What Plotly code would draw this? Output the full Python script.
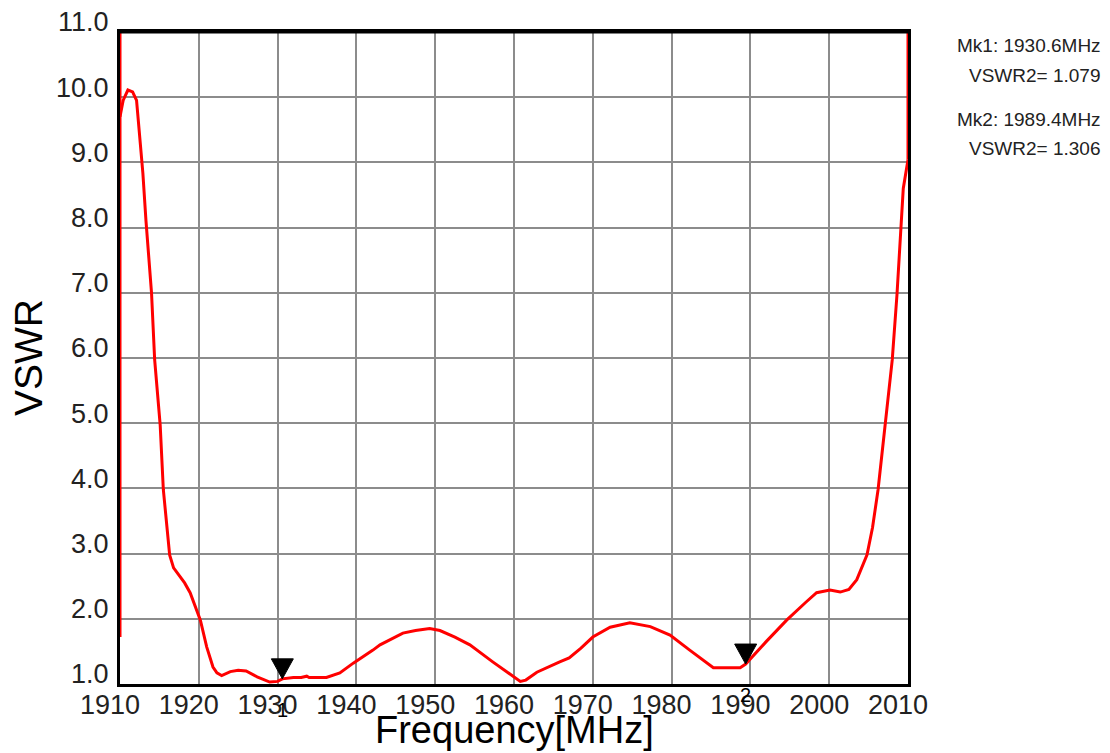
import plotly.graph_objects as go

# ---- data ----
freq = [1910.0, 1910.4, 1911.0, 1911.6, 1912.1, 1912.5, 1912.9, 1913.3, 1913.6, 1914.0,
        1914.4, 1915.1, 1915.5, 1916.0, 1916.3, 1916.8, 1917.4, 1918.2, 1918.9, 1919.4,
        1920.2, 1921.0, 1921.8, 1922.3, 1922.9, 1924.0, 1925.0, 1926.0, 1927.4, 1929.0,
        1930.0, 1930.6, 1932.0, 1933.0, 1933.7, 1934.0, 1936.2, 1937.9, 1939.6, 1942.1,
        1943.0, 1945.9, 1947.5, 1949.3, 1950.6, 1952.5, 1954.4, 1957.3, 1959.0, 1960.8,
        1961.5, 1962.9, 1965.8, 1967.0, 1968.5, 1970.0, 1972.2, 1974.7, 1977.3, 1979.8,
        1982.3, 1985.3, 1988.7, 1989.4, 1992.0, 1994.6, 1997.0, 1998.4, 2000.1, 2001.4,
        2002.5, 2003.5, 2004.8, 2005.5, 2006.2, 2007.1, 2008.0, 2008.6, 2008.9, 2009.4,
        2010.0]
vswr = [9.70, 9.95, 10.11, 10.08, 9.95, 9.45, 8.84, 8.10, 7.66, 7.00,
        5.97, 4.97, 3.98, 3.30, 2.98, 2.78, 2.68, 2.55, 2.40, 2.25,
        1.98, 1.57, 1.26, 1.17, 1.13, 1.19, 1.21, 1.20, 1.11, 1.03,
        1.04, 1.079, 1.10, 1.10, 1.12, 1.10, 1.10, 1.17, 1.32, 1.52,
        1.60, 1.78, 1.82, 1.85, 1.82, 1.72, 1.60, 1.34, 1.20, 1.04,
        1.06, 1.18, 1.34, 1.40, 1.55, 1.72, 1.87, 1.94, 1.88, 1.75,
        1.52, 1.25, 1.25, 1.306, 1.65, 1.98, 2.25, 2.40, 2.44, 2.41,
        2.45, 2.60, 2.98, 3.40, 3.98, 4.97, 5.97, 6.97, 7.66, 8.60,
        9.04]

# off-scale edge segments of the trace
left_edge_x = [1910, 1910]
left_edge_y = [1.72, 11.0]
right_edge_x = [2010, 2010]
right_edge_y = [9.04, 11.0]

mk_names = ["1", "2"]
mk_freq = [1930.6, 1989.4]
mk_vswr = [1.079, 1.306]
mk_label_shift = [-26, -11]

x_ticks = [1910, 1920, 1930, 1940, 1950, 1960, 1970, 1980, 1990, 2000, 2010]
y_ticks = [1.0, 2.0, 3.0, 4.0, 5.0, 6.0, 7.0, 8.0, 9.0, 10.0, 11.0]

readout = ["Mk1: 1930.6MHz", "VSWR2= 1.079", "Mk2: 1989.4MHz", "VSWR2= 1.306"]
readout_shift = [-13, -43, -87, -116]

RED = "#ff0000"
GRID = "#8c8c8c"

fig = go.Figure()
fig.add_trace(go.Scatter(x=freq, y=vswr, mode="lines",
                         line=dict(color=RED, width=3), cliponaxis=False,
                         showlegend=False, hoverinfo="skip"))
for ex, ey in ((left_edge_x, left_edge_y), (right_edge_x, right_edge_y)):
    fig.add_trace(go.Scatter(x=ex, y=ey, mode="lines",
                             line=dict(color=RED, width=3), cliponaxis=False,
                             showlegend=False, hoverinfo="skip"))

shapes = [
    # top frame line
    dict(type="line", xref="paper", yref="paper", x0=0, x1=1, y0=1, y1=1,
         line=dict(color="black", width=3), layer="above"),
]
annotations = []
for name, f, v, ls in zip(mk_names, mk_freq, mk_vswr, mk_label_shift):
    shapes.append(dict(type="path", xref="x", yref="y",
                       xsizemode="pixel", ysizemode="pixel",
                       xanchor=f, yanchor=v,
                       path="M -11,20 L 11,20 L 0,0 Z",
                       fillcolor="black", line=dict(color="black", width=1)))
    annotations.append(dict(x=f, y=0, xref="x", yref="paper", text=name,
                            showarrow=False, xanchor="center", yanchor="middle",
                            yshift=ls,
                            font=dict(family="Liberation Sans", size=20,
                                      color="black")))

for t, s in zip(readout, readout_shift):
    annotations.append(dict(x=1, y=1, xref="paper", yref="paper", text=t,
                            showarrow=False, xanchor="right", yanchor="middle",
                            xshift=195, yshift=s,
                            font=dict(family="Liberation Sans, Arial", size=19, color="#222222")))

annotations.append(dict(x=0.5, y=0, xref="paper", yref="paper", text="Frequency[MHz]",
                        showarrow=False, xanchor="center", yanchor="middle",
                        yshift=-46,
                        font=dict(family="Liberation Sans, Arial", size=38, color="black")))
annotations.append(dict(x=0, y=0.5, xref="paper", yref="paper", text="VSWR",
                        showarrow=False, xanchor="center", yanchor="middle",
                        xshift=-92, textangle=-90,
                        font=dict(family="Liberation Sans, Arial", size=39, color="black")))

tickfont = dict(family="Liberation Sans Narrow, Liberation Sans", size=27, color="#222222")

# page body adds an 8px margin, so the figure is sized to fit the window
fig.update_layout(
    width=1102, height=745,
    margin=dict(l=112, r=202, t=24, b=69, pad=0, autoexpand=False),
    paper_bgcolor="white", plot_bgcolor="white",
    shapes=shapes, annotations=annotations,
    xaxis=dict(range=[1910, 2010], tickvals=x_ticks, ticktext=[str(v) for v in x_ticks],
               showgrid=True, gridcolor=GRID, gridwidth=1.5, zeroline=False,
               showline=True, linecolor="black", linewidth=3, mirror=True,
               ticks="", ticklabelstandoff=-5, ticklabelshift=-10, tickfont=tickfont,
               ticklabeloverflow="allow", automargin=False,
               layer="below traces", fixedrange=True),
    yaxis=dict(range=[1, 11], tickvals=y_ticks, ticktext=[f"{v:.1f}" for v in y_ticks],
               showgrid=True, gridcolor=GRID, gridwidth=1.5, zeroline=False,
               showline=True, linecolor="black", linewidth=3, mirror=True,
               ticks="", ticklabelstandoff=3, ticklabelshift=-10, tickfont=tickfont,
               ticklabeloverflow="allow", automargin=False,
               layer="below traces", fixedrange=True),
)

fig.write_html("out.html")
